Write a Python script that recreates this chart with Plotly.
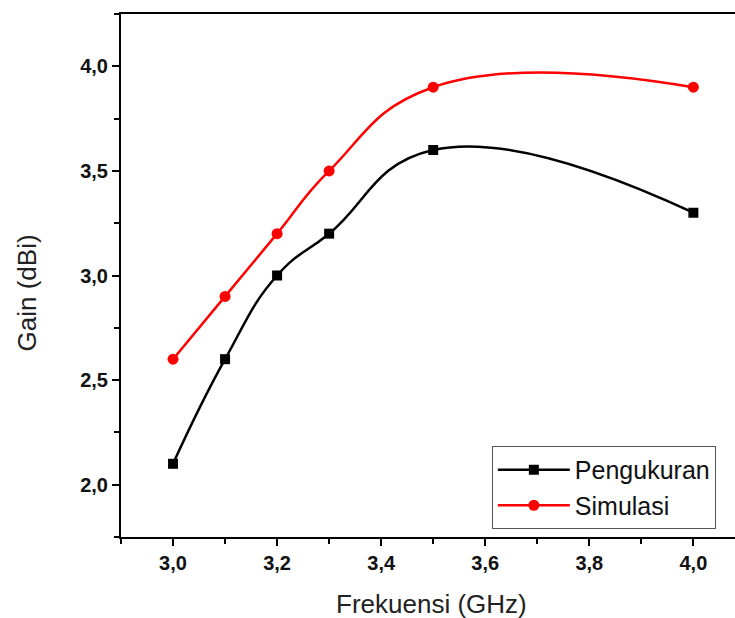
import plotly.graph_objects as go

# Frequency points (GHz) and gain values (dBi)
freq = [3.0, 3.1, 3.2, 3.3, 3.5, 4.0]
gain_pengukuran = [2.1, 2.6, 3.0, 3.2, 3.6, 3.3]
gain_simulasi = [2.6, 2.9, 3.2, 3.5, 3.9, 3.9]

x_ticks = [3.0, 3.2, 3.4, 3.6, 3.8, 4.0]
y_ticks = [2.0, 2.5, 3.0, 3.5, 4.0]

FONT = "Liberation Sans, Arial, sans-serif"

fig = go.Figure()
fig.add_trace(go.Scatter(
    x=freq, y=gain_pengukuran, name="Pengukuran", mode="lines+markers",
    line=dict(color="black", width=2.5, shape="spline", smoothing=1.3),
    marker=dict(symbol="square", size=10, color="black"),
))
fig.add_trace(go.Scatter(
    x=freq, y=gain_simulasi, name="Simulasi", mode="lines+markers",
    line=dict(color="#ff0000", width=2.5, shape="spline", smoothing=1.3),
    marker=dict(symbol="circle", size=11, color="#ff0000"),
))

axis_common = dict(
    showgrid=False, zeroline=False, showline=True, linecolor="black",
    linewidth=2, ticks="outside", ticklen=7, tickwidth=2, tickcolor="black",
    tickfont=dict(family=FONT, size=20, color="#111111", weight="bold"),
)

fig.update_xaxes(
    range=[2.9, 4.08], tickvals=x_ticks, tickformat=".1f", mirror=True,
    minor=dict(dtick=0.1, tick0=3.0, ticks="outside", ticklen=5,
               tickwidth=2, tickcolor="black"),
    **axis_common,
)
fig.update_yaxes(
    range=[1.75, 4.25], tickvals=y_ticks, tickformat=".1f",
    minor=dict(dtick=0.25, tick0=2.0, ticks="outside", ticklen=5,
               tickwidth=2, tickcolor="black"),
    **axis_common,
)

fig.add_annotation(
    text="Frekuensi (GHz)", xref="paper", yref="paper", x=0.5065, y=-0.128,
    showarrow=False, xanchor="center", yanchor="middle",
    font=dict(family=FONT, size=26, color="#222222"),
)
fig.add_annotation(
    text="Gain (dBi)", xref="paper", yref="paper", x=-0.1515, y=0.4675,
    showarrow=False, xanchor="center", yanchor="middle", textangle=-90,
    font=dict(family=FONT, size=26, color="#222222"),
)

fig.update_layout(
    width=735, height=618,
    margin=dict(l=121, r=0, t=14, b=81),
    paper_bgcolor="white", plot_bgcolor="white",
    separators=",.",
    showlegend=True,
    legend=dict(
        x=0.604, y=0.174, xanchor="left", yanchor="top",
        bordercolor="#555555", borderwidth=1, bgcolor="white",
        font=dict(family=FONT, size=25, color="#111111"),
        tracegroupgap=0, itemwidth=72,
    ),
)

fig.write_html("out.html")
